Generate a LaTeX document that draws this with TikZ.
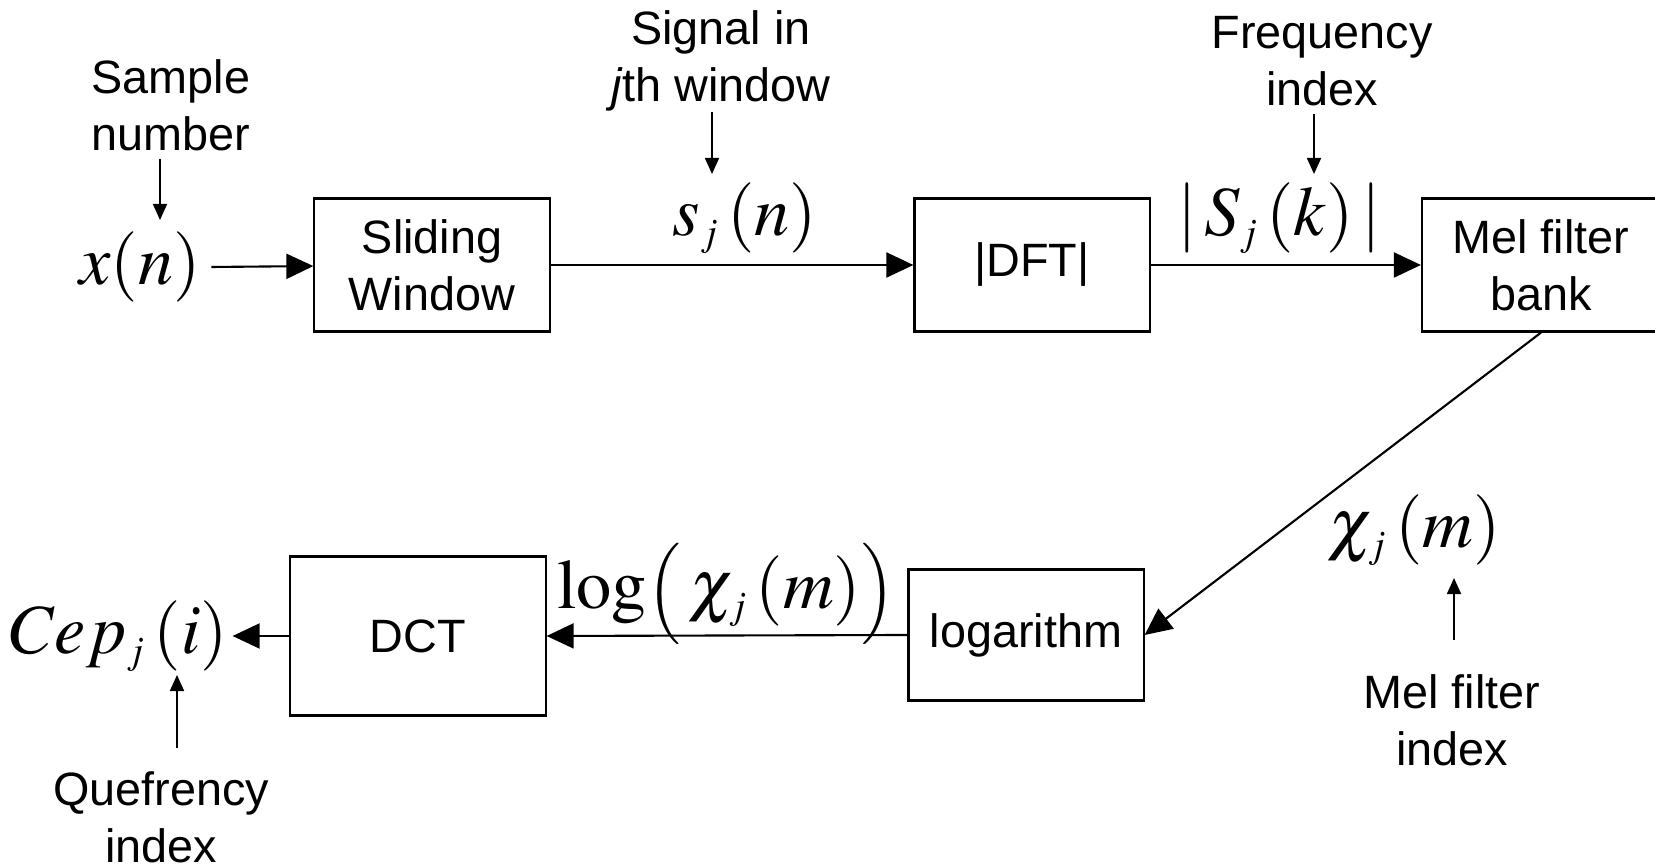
\documentclass[tikz,border=0pt]{standalone}
\usepackage{mathptmx}
\usepackage[no-math]{fontspec}
\setmainfont{Liberation Sans}
\usetikzlibrary{arrows.meta}
\DeclareMathSizes{20}{20}{11}{8}
\newcommand{\lblfont}{\fontsize{13.3}{16.2}\selectfont}
\newcommand{\sigfont}{\fontsize{20}{24}\selectfont}
\newcommand{\midl}{\mathopen{\mbox{\fontsize{16}{16}\selectfont$\Bigl($}}}
\newcommand{\midr}{\mathclose{\mbox{\fontsize{16}{16}\selectfont$\Bigr)$}}}
\tikzstyle{block}=[rectangle,draw=black,line width=0.6pt,inner sep=0mm,align=center,font=\lblfont]
\tikzstyle{lbl}=[align=center,inner sep=0mm,font=\lblfont]
\tikzstyle{sig}=[inner sep=0mm,font=\sigfont]
\tikzstyle{flow}=[line width=0.6pt,-{Triangle[length=0.27cm,width=0.25cm]}]
\tikzstyle{note}=[line width=0.5pt,-{Triangle[length=0.16cm,width=0.14cm]}]

\begin{document}
\begin{tikzpicture}[x=0.01cm,y=-0.01cm]
    \useasboundingbox (0,0) rectangle (1655,868);
    % processing blocks
    \node[block,minimum width=2.35cm,minimum height=1.33cm] at (432,265) (slide) {Sliding\\Window};
    \node[block,minimum width=2.35cm,minimum height=1.33cm] at (1032,265) (dft) {|DFT|};
    \node[block,minimum width=2.38cm,minimum height=1.33cm] at (1541,265) (mel) {Mel filter\\bank};
    \node[block,minimum width=2.35cm,minimum height=1.31cm] at (1026,635) (log) {logarithm};
    \node[block,minimum width=2.55cm,minimum height=1.59cm] at (418,636) (dct) {DCT};
    % signals
    \node[sig] at (140,267) (xn) {$x(n)$};
    \node[sig] at (745,218) (sjn) {$s_j\,(n)$};
    \node[sig] at (1279,218) (Sjk) {$|\,S_j\,(k)\,|$};
    \node[sig] at (1414,530) (chi) {$\chi_j\,(m)$};
    \node[sig] at (726,594) (logchi) {$\log\midl\,\chi_j\,(m)\midr$};
    \node[sig] at (119,636) (cep) {$Cep_j\,(i)$};
    % annotations
    \node[lbl] at (171,105) (samp) {Sample\\number};
    \node[lbl] at (721,61) (sigwin) {Signal in\\\textit{j}th window};
    \node[lbl] at (1322,61) (freq) {Frequency\\index};
    \node[lbl] at (1452,720) (melidx) {Mel filter\\index};
    \node[lbl] at (161,817) (quef) {Quefrency\\index};
    \coordinate (sampTip) at (160,220);
    \coordinate (sigTip) at (712,174);
    \coordinate (freqTip) at (1314,174);
    \coordinate (melTip) at (1454,578);
    \coordinate (quefTip) at (177,675);
    % flow
    \draw[flow] ([xshift=0.1cm]xn.east) to (slide);
    \draw[flow] (slide) to (dft);
    \draw[flow] (dft) to (mel);
    \draw[flow] (mel.south) to (log.east);
    \draw[flow] (log.west) to (dct.east);
    \draw[flow] (dct.west) to ([xshift=0.04cm]cep.east);
    \draw[note,shorten <=0.08cm] (samp.south -| sampTip) to (sampTip);
    \draw[note] (sigwin.south -| sigTip) to (sigTip);
    \draw[note,shorten <=0.08cm] (freq.south -| freqTip) to (freqTip);
    \draw[note,shorten <=0.34cm] (melidx.north -| melTip) to (melTip);
    \draw[note,shorten <=0.23cm] (quef.north -| quefTip) to (quefTip);
\end{tikzpicture}
\end{document}
